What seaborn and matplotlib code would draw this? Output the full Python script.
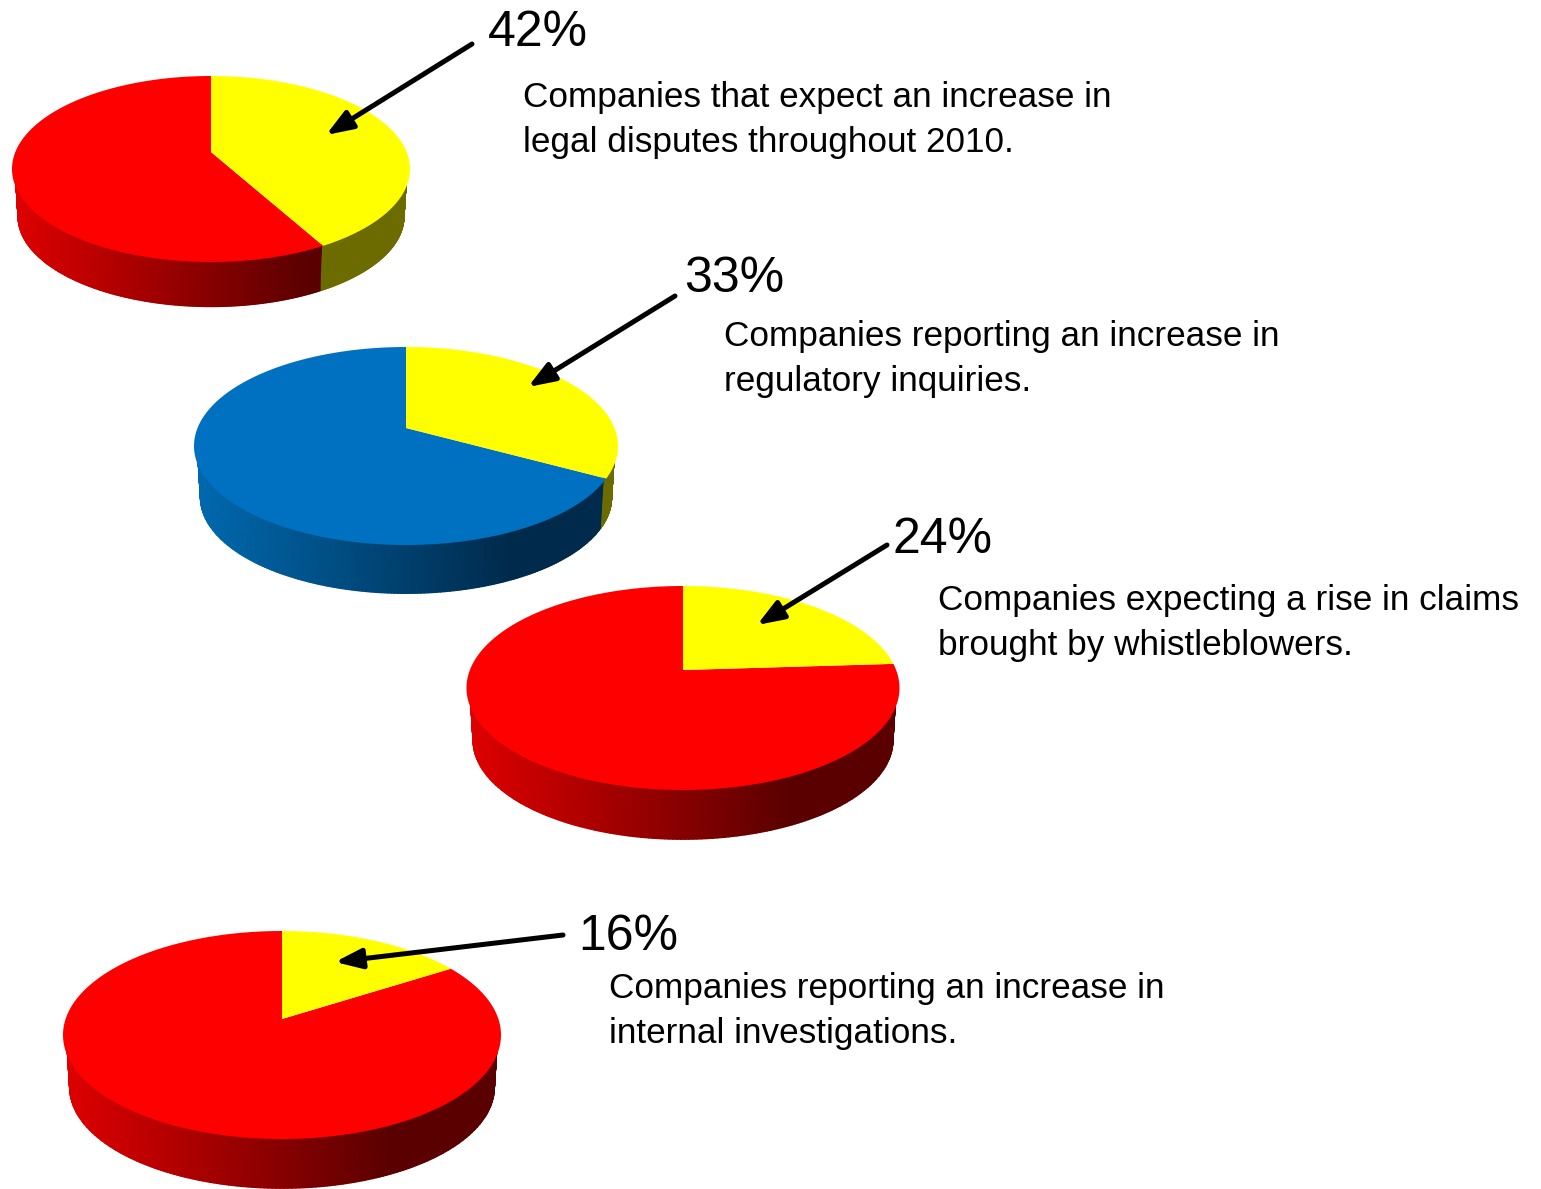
"""
Four tilted 3D pies: share of companies expecting more legal trouble.
"""

import numpy as np
import matplotlib
matplotlib.use('Agg')
import matplotlib.pyplot as plt
import seaborn as sns

# Data
percent_values = [42, 33, 24, 16]
percent_labels = ['42%', '33%', '24%', '16%']
descriptions = [
    'Companies that expect an increase in\nlegal disputes throughout 2010.',
    'Companies reporting an increase in\nregulatory inquiries.',
    'Companies expecting a rise in claims\nbrought by whistleblowers.',
    'Companies reporting an increase in\ninternal investigations.',
]
rest_colors = ['#ff0000', '#0070c0', '#ff0000', '#ff0000']

# Layout, in image pixels (text y is the baseline of the last line)
apex_xy = [(211, 152), (406, 428), (683, 670), (282, 1019)]
half_width = [199, 212, 216.5, 219]
reach_up = [76, 81, 84, 88]
reach_down = [110, 117, 120, 120]
side_depth = [48, 52, 53, 53]
label_xy = [(488, 46), (684, 292), (893, 553), (578, 950)]
text_xy = [(523, 152), (724, 391), (938, 655), (609, 1043)]
arrow_from = [(472, 44), (675, 296), (887, 545), (563, 935)]
arrow_to = [(326, 135), (528, 387), (757, 625), (335, 962)]

SHADES = {
    '#ff0000': ['#e00000', '#5a0000'],
    '#0070c0': ['#006ab0', '#002a4b'],
    '#ffff00': ['#6b6b00', '#6b6b00'],
}
FRONT_START, FRONT_STOP = 88, 272

sns.set_theme(style='white')
plt.rcParams['font.family'] = ['Liberation Sans', 'DejaVu Sans']


def project(angle_deg, idx, scale=1.0, drop=0.0):
    """Map clockwise-from-top pie angle to image pixels with a small perspective."""
    up, down = reach_up[idx], reach_down[idx]
    k = (down - up) / (down + up)
    b = up * (1 + k)
    a = half_width[idx] * np.sqrt(1 - k ** 2)
    t = np.radians(angle_deg)
    u, v = np.sin(t), np.cos(t)
    px = apex_xy[idx][0] + scale * a * u / (1 + k * v)
    py = apex_xy[idx][1] - scale * b * v / (1 + k * v) + drop
    return px, py


def draw_side(ax, start, stop, color, idx):
    # only the front of the rim shows
    start, stop = max(start, FRONT_START), min(stop, FRONT_STOP)
    if start >= stop:
        return
    t = np.linspace(start, stop, 200)
    # top row sits just inside the rim so it does not bleed past the top face
    x_top, y_top = project(t, idx, scale=0.985)
    x_bot, y_bot = project(t, idx, scale=0.97, drop=side_depth[idx])
    X = np.vstack([x_top, x_bot])
    Y = np.vstack([y_top, y_bot])
    # shading runs left to right across the pie, flat past the darkest point
    C = (X - apex_xy[idx][0]) / half_width[idx]
    cmap = sns.blend_palette(SHADES[color], as_cmap=True)
    ax.pcolormesh(X, Y, C, shading='gouraud', cmap=cmap, vmin=-1, vmax=0.5, zorder=1)


def draw_slice(ax, start, stop, color, idx):
    t = np.linspace(start, stop, 300)
    x, y = project(t, idx)
    ax.fill(np.r_[apex_xy[idx][0], x], np.r_[apex_xy[idx][1], y], color=color, lw=0, zorder=2)


fig = plt.figure(figsize=(15.41, 11.89), dpi=100, facecolor='white')
ax = fig.add_axes([0, 0, 1, 1])
ax.set_xlim(0, 1541)
ax.set_ylim(1189, 0)
ax.axis('off')

for i, value in enumerate(percent_values):
    sweep = 360 * value / 100

    draw_side(ax, 0, sweep, '#ffff00', i)
    draw_side(ax, sweep, 360, rest_colors[i], i)
    draw_slice(ax, sweep, 360, rest_colors[i], i)
    draw_slice(ax, 0, sweep, '#ffff00', i)

    ax.annotate('', xy=arrow_to[i], xytext=arrow_from[i], zorder=5,
                arrowprops=dict(arrowstyle='-|>,head_length=0.8,head_width=0.3',
                                color='black', lw=3.6, shrinkA=0, shrinkB=0,
                                mutation_scale=20))

    ax.text(*label_xy[i], percent_labels[i], fontsize=36, color='black', va='baseline')
    ax.text(*text_xy[i], descriptions[i], fontsize=25.3, color='black', va='baseline',
            linespacing=1.46)

fig.savefig('out.png', dpi=100)
